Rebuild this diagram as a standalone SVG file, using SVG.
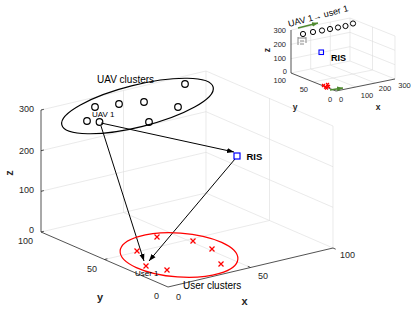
<svg xmlns="http://www.w3.org/2000/svg" width="415" height="319" viewBox="0 0 415 319">
<defs>
<marker id="ah" viewBox="0 0 10 10" refX="10" refY="5" markerWidth="7" markerHeight="7" markerUnits="userSpaceOnUse" orient="auto"><path d="M0,1.3 L10,5 L0,8.7 z" fill="#000"/></marker>
<marker id="ahg" viewBox="0 0 10 10" refX="10" refY="5" markerWidth="6" markerHeight="6" markerUnits="userSpaceOnUse" orient="auto"><path d="M0,1 L10,5 L0,9 z" fill="#4f8a2f"/></marker>
</defs>
<style>
.grid{stroke:#dcdcdc;stroke-width:0.6;fill:none}
.ax{stroke:#262626;stroke-width:0.8;fill:none}
.tk{font-family:"Liberation Sans",Arial,sans-serif;font-size:9px;fill:#262626}
.tks{font-family:"Liberation Sans",Arial,sans-serif;font-size:7.5px;fill:#262626}
.lab{font-family:"Liberation Sans",Arial,sans-serif;font-size:11px;font-weight:bold;fill:#262626}
.labs{font-family:"Liberation Sans",Arial,sans-serif;font-size:8.5px;font-weight:bold;fill:#262626}
.ann{font-family:"Liberation Sans",Arial,sans-serif;fill:#000}
.uav{fill:none;stroke:#000;stroke-width:1.2}
.usr{stroke:#ff0000;stroke-width:1.2;fill:none}
.conn{stroke:#000;stroke-width:1;fill:none}
</style>
<rect width="415" height="319" fill="#fff"/>

<g id="main-axes">
<path class="grid" d="M41,232 L206,193 M41,191.3 L206,152.3 M41,150.7 L206,111.7 M41,110 L206,71 M123.5,212.5 L123.5,90.5 M206,193 L206,71 M206,193 L333,248 M206,152.3 L333,207.3 M206,111.7 L333,166.7 M206,71 L333,126 M269.5,220.5 L269.5,98.5 M333,248 L333,126 M250.5,267.5 L123.5,212.5 M104.5,259.5 L269.5,220.5"/>
<path class="ax" d="M41,232 L41,110 M41,232 L168,287 L333,248"/>
<path class="ax" d="M41,232 l2.9,-0.7 M41,191.3 l2.9,-0.7 M41,150.7 l2.9,-0.7 M41,110 l2.9,-0.7 M104.5,259.5 l2.9,-0.7 M250.5,267.5 l-2.7,-1.2 M333,248 l2.7,1.2"/>
<text class="tk" text-anchor="end" x="34" y="112.3">300</text>
<text class="tk" text-anchor="end" x="34" y="154">200</text>
<text class="tk" text-anchor="end" x="34" y="193.3">100</text>
<text class="tk" text-anchor="end" x="34" y="233.3">0</text>
<text class="tk" text-anchor="end" x="33" y="244.3">100</text>
<text class="tk" text-anchor="end" x="97" y="272.3">50</text>
<text class="tk" text-anchor="middle" x="156.5" y="299.3">0</text>
<text class="tk" text-anchor="middle" x="178.5" y="300.3">0</text>
<text class="tk" text-anchor="middle" x="263" y="279.3">50</text>
<text class="tk" text-anchor="middle" x="347.5" y="258.3">100</text>
<text class="lab" text-anchor="middle" transform="translate(13,173) rotate(-90)">z</text>
<text class="lab" text-anchor="middle" x="100" y="301">y</text>
<text class="lab" text-anchor="middle" x="244.5" y="305">x</text>
</g>

<g id="connectors">
<path class="conn" d="M101,123 L234,152" marker-end="url(#ah)"/>
<path class="conn" d="M101,126 L144,261" marker-end="url(#ah)"/>
<path class="conn" d="M235,159 L149,261" marker-end="url(#ah)"/>
</g>

<g id="uav-clusters">
<ellipse cx="137.5" cy="106" rx="78" ry="21" transform="rotate(-14 137.5 106)" fill="none" stroke="#000" stroke-width="1.2"/>
<circle class="uav" cx="87" cy="121" r="3.3"/>
<circle class="uav" cx="99.5" cy="122" r="3.3"/>
<circle class="uav" cx="95" cy="107" r="3.3"/>
<circle class="uav" cx="119" cy="104" r="3.3"/>
<circle class="uav" cx="144" cy="102" r="3.3"/>
<circle class="uav" cx="149" cy="122" r="3.3"/>
<circle class="uav" cx="178" cy="107" r="3.3"/>
<circle class="uav" cx="185" cy="84" r="3.3"/>
<text class="ann" x="97" y="83" font-size="10">UAV clusters</text>
<text class="ann" x="92" y="117" font-size="8" fill="#222">UAV 1</text>
</g>

<g id="ris">
<rect x="234" y="153" width="6" height="6" fill="none" stroke="#0000ff" stroke-width="1.2"/>
<text class="ann" x="246.5" y="160" font-size="9.5" font-weight="bold" fill="#222">RIS</text>
</g>

<g id="user-clusters">
<ellipse cx="179" cy="255" rx="59" ry="22" transform="rotate(4 179 255)" fill="none" stroke="#ff0000" stroke-width="1.2"/>
<path class="usr" d="M154.5,234.5 l5,5 m0,-5 l-5,5 M134.5,248.5 l5,5 m0,-5 l-5,5 M190.5,238.5 l5,5 m0,-5 l-5,5 M209.5,246.5 l5,5 m0,-5 l-5,5 M143.5,263.5 l5,5 m0,-5 l-5,5 M164.5,267.5 l5,5 m0,-5 l-5,5 M218.5,261.5 l5,5 m0,-5 l-5,5"/>
<text class="ann" x="135" y="276" font-size="8" fill="#333">User 1</text>
<text class="ann" x="183" y="289" font-size="10">User clusters</text>
</g>

<g id="inset">
<path class="grid" d="M291,73 L350,61 M291,58.7 L350,46.7 M291,44.3 L350,32.3 M291,30 L350,18 M310.7,69 L310.7,26 M330.3,65 L330.3,22 M350,61 L350,18 M350,61 L395,79 M350,46.7 L395,64.7 M350,32.3 L395,50.3 M350,18 L395,36 M372.5,70 L372.5,27 M395,79 L395,36 M355.7,87 L310.7,69 M375.3,83 L330.3,65 M313.5,82 L372.5,70"/>
<path class="ax" d="M291,73 L291,30 M291,73 L336,91 L395,79"/>
<text class="tks" text-anchor="end" x="286" y="32.5">300</text>
<text class="tks" text-anchor="end" x="286" y="47">200</text>
<text class="tks" text-anchor="end" x="286" y="61">100</text>
<text class="tks" text-anchor="end" x="287" y="73.5">0</text>
<text class="tks" text-anchor="end" x="286" y="83">100</text>
<text class="tks" text-anchor="end" x="308" y="91.7">50</text>
<text class="tks" text-anchor="middle" x="330" y="101.7">0</text>
<text class="tks" text-anchor="middle" x="341" y="101.7">0</text>
<text class="tks" text-anchor="middle" x="367" y="97.7">100</text>
<text class="tks" text-anchor="middle" x="385" y="90.7">200</text>
<text class="tks" text-anchor="middle" x="404.5" y="87.7">300</text>
<text class="labs" text-anchor="middle" transform="translate(270,50) rotate(-90)">z</text>
<text class="labs" text-anchor="middle" x="295" y="110">y</text>
<text class="labs" text-anchor="middle" x="378" y="110">x</text>
<text class="ann" font-size="9" fill="#111" transform="translate(289,27) rotate(-15)">UAV 1→ user 1</text>
<path d="M298,28 L318,23" stroke="#4f8a2f" stroke-width="1.3" fill="none" marker-end="url(#ahg)"/>
<g fill="none" stroke="#000" stroke-width="1">
<circle cx="303" cy="34" r="2.6"/><circle cx="313" cy="32" r="2.6"/><circle cx="322" cy="30.5" r="2.6"/><circle cx="330" cy="29" r="2.6"/><circle cx="338" cy="27.5" r="2.6"/><circle cx="345.5" cy="26" r="2.6"/><circle cx="353" cy="23.5" r="2.6"/>
</g>
<path d="M298,37 L298,45 M298,38 L306,38 M306,37 L306,43 M300,41 L304,41 M300,44 L304,44" stroke="#888" stroke-width="1" fill="none"/>
<rect x="319" y="50" width="4.5" height="4.5" fill="none" stroke="#0000ff" stroke-width="1.1"/>
<text class="ann" x="331" y="60.5" font-size="9" font-weight="bold" fill="#111">RIS</text>
<path d="M322,84 l3,3 m0,-3 l-3,3 M324,85.5 l3,3 m0,-3 l-3,3 M326,83 l3,3 m0,-3 l-3,3 M327,85 l3,3 m0,-3 l-3,3 M325,86.5 l3,3 m0,-3 l-3,3" stroke="#ff0000" stroke-width="1.2" fill="none"/>
<path d="M330,90 L343,88" stroke="#4f8a2f" stroke-width="1.3" fill="none" marker-end="url(#ahg)"/>
</g>
</svg>
